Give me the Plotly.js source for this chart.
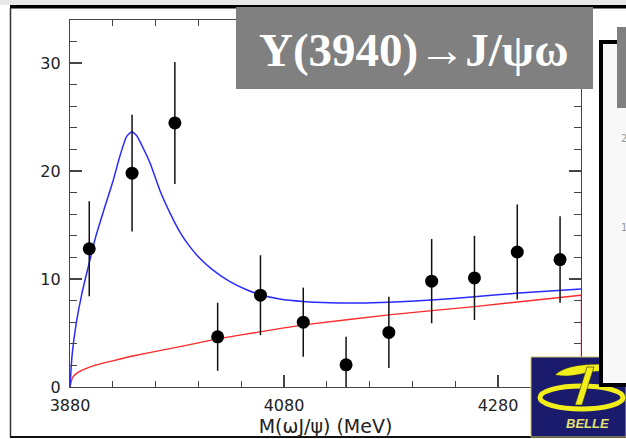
<!DOCTYPE html>
<html>
<head>
<meta charset="utf-8">
<script src="https://cdn.plot.ly/plotly-3.0.1.min.js"></script>
<style>html,body{margin:0;padding:0;background:#fff;}#chart{width:626px;height:439px;}</style>
</head>
<body>
<div id="chart"></div>
<script>
// ---- data ----
var massBins = [3898, 3938, 3978, 4018, 4058, 4098, 4138, 4178, 4218, 4258, 4298, 4338];
var events   = [12.8, 19.8, 24.45, 4.65, 8.5, 6.0, 2.05, 5.05, 9.8, 10.1, 12.5, 11.8];
var errors   = [4.4, 5.4, 5.65, 3.15, 3.7, 3.2, 2.6, 3.3, 3.9, 3.9, 4.4, 4.0];

var fitMass  = [3880, 3882, 3886, 3891, 3897, 3904, 3912, 3920, 3927, 3933, 3937.5, 3942, 3948, 3955, 3964, 3973.5, 3983, 3992, 4001.5, 4014, 4029.5, 4045, 4058, 4076, 4098, 4123, 4150, 4178, 4218, 4258, 4300, 4358];
var fitTotal = [0, 3.0, 6.0, 8.6, 11.1, 13.9, 16.5, 19.0, 21.5, 23.2, 23.6, 23.3, 22.2, 20.7, 18.2, 16.1, 14.3, 13.0, 11.9, 10.8, 9.75, 9.0, 8.55, 8.15, 7.92, 7.8, 7.78, 7.85, 8.05, 8.36, 8.7, 9.07];

var bgMass   = [3880, 3882.5, 3888.7, 3901, 3920, 3938.6, 3969.7, 4001, 4018, 4058.5, 4098.4, 4178, 4258, 4358];
var bgValues = [0, 0.9, 1.42, 1.94, 2.43, 2.87, 3.49, 4.1, 4.45, 5.12, 5.75, 6.67, 7.45, 8.5];

var xTickVals = [3880, 4080, 4280];
var yTickVals = [0, 10, 20, 30];
var titleText = "Y(3940)\u2192J/\u03c8\u03c9";
var xTitle = "M(\u03c9J/\u03c8) (MeV)";

// ---- layout geometry helpers (pixel -> paper) ----
var L = 70, T = 20, W = 511, H = 367;
function X(px){ return (px - L) / W; }
function Y(py){ return (T + H - py) / H; }
function P(px, py){ return X(px).toFixed(5) + "," + Y(py).toFixed(5); }

var traces = [
  {
    x: bgMass, y: bgValues, type: "scatter", mode: "lines",
    line: {color: "#ff2a2a", width: 1.3, shape: "spline", smoothing: 0.5},
    hoverinfo: "skip", showlegend: false
  },
  {
    x: [bgMass[bgMass.length-1], bgMass[bgMass.length-1]], y: [bgValues[bgValues.length-1], 0],
    type: "scatter", mode: "lines", line: {color: "#d02060", width: 1.3},
    hoverinfo: "skip", showlegend: false
  },
  {
    x: fitMass, y: fitTotal, type: "scatter", mode: "lines",
    line: {color: "#2a2aff", width: 1.5, shape: "spline", smoothing: 0.6},
    hoverinfo: "skip", showlegend: false
  },
  {
    x: massBins, y: events, type: "scatter", mode: "markers",
    marker: {color: "#000", size: 13},
    error_y: {type: "data", array: errors, visible: true, color: "#111", thickness: 1.5, width: 0},
    showlegend: false
  }
];

var shapes = [
  // top grey strip and black bar
  {type:"rect", xref:"paper", yref:"paper", x0:X(0), x1:X(626), y0:Y(0), y1:Y(5), fillcolor:"#e8e8e8", line:{width:0}, layer:"below"},
  {type:"rect", xref:"paper", yref:"paper", x0:X(10), x1:X(626), y0:Y(5), y1:Y(8.5), fillcolor:"#000", line:{width:0}, layer:"above"},
  {type:"line", xref:"paper", yref:"paper", x0:X(10.5), x1:X(10.5), y0:Y(8), y1:Y(437), line:{color:"#333", width:1.5}, layer:"above"},
  {type:"line", xref:"paper", yref:"paper", x0:X(10), x1:X(626), y0:Y(437), y1:Y(437), line:{color:"#111", width:2}, layer:"above"},
  // title box
  {type:"rect", xref:"paper", yref:"paper", x0:X(236), x1:X(593), y0:Y(7), y1:Y(89), fillcolor:"#808080", line:{width:0}, layer:"above"},
  // Belle logo
  {type:"rect", xref:"paper", yref:"paper", x0:X(531), x1:X(626), y0:Y(357), y1:Y(437), fillcolor:"#1b1b6e", line:{color:"#c8c060", width:1}, layer:"above"},
  {type:"circle", xref:"paper", yref:"paper", x0:X(540), x1:X(623), y0:Y(386), y1:Y(409), line:{color:"#f2ee1a", width:5}, layer:"above"},
  {type:"path", xref:"paper", yref:"paper", layer:"above",
   path:"M"+P(555,375)+" C"+P(563,367)+" "+P(578,364)+" "+P(604,364)+" L"+P(604,371)+" C"+P(586,371)+" "+P(572,379)+" "+P(555,375)+" Z",
   fillcolor:"#f2ee1a", line:{color:"#222", width:0.6}},
  {type:"path", xref:"paper", yref:"paper", layer:"above",
   path:"M"+P(587,367)+" L"+P(594,367)+" L"+P(582,405)+" L"+P(575,405)+" Z",
   fillcolor:"#f2ee1a", line:{color:"#222", width:0.6}},
  // right overlapping panel
  {type:"rect", xref:"paper", yref:"paper", x0:X(601), x1:X(640), y0:Y(42), y1:Y(385), fillcolor:"#f8f8f8", line:{color:"#000", width:4}, layer:"above"},
  {type:"rect", xref:"paper", yref:"paper", x0:X(617), x1:X(626), y0:Y(27), y1:Y(108), fillcolor:"#808080", line:{width:0}, layer:"above"}
];

var annotations = [
  {xref:"paper", yref:"paper", x:X(414), y:Y(50), text:"<b>"+titleText+"</b>", showarrow:false,
   xanchor:"center", yanchor:"middle", font:{family:"Liberation Serif, Times New Roman, serif", size:47, color:"#fff"}},
  {xref:"paper", yref:"paper", x:X(587), y:Y(423), text:"<b><i>BELLE</i></b>", showarrow:false,
   xanchor:"center", yanchor:"middle", font:{family:"Liberation Sans, Arial, sans-serif", size:13, color:"#e6e070"}},
  {xref:"paper", yref:"paper", x:X(619), y:Y(138), text:"2", showarrow:false, xanchor:"left", yanchor:"middle",
   font:{family:"DejaVu Sans", size:10, color:"#999"}},
  {xref:"paper", yref:"paper", x:X(619), y:Y(227), text:"1", showarrow:false, xanchor:"left", yanchor:"middle",
   font:{family:"DejaVu Sans", size:10, color:"#999"}}
];

var axisCommon = {
  showgrid:false, zeroline:false, showline:true, linecolor:"#444", linewidth:1.2,
  mirror:"allticks", ticks:"inside", tickcolor:"#444", tickwidth:1.2, ticklen:12,
  tickfont:{family:"DejaVu Sans", size:16, color:"#222"}
};

var layout = {
  width:626, height:439,
  margin:{l:L, r:626-L-W, t:T, b:439-T-H, pad:0},
  paper_bgcolor:"#fff", plot_bgcolor:"#fff",
  showlegend:false,
  xaxis: Object.assign({}, axisCommon, {
    range:[3880, 3880 + W/1.07], tickmode:"array", tickvals:xTickVals, ticktext:xTickVals.map(String),
    ticklabelstandoff:4,
    minor:{dtick:40, tick0:3880, ticks:"inside", ticklen:6, tickcolor:"#444", tickwidth:1.2},
    title:{text:xTitle, font:{family:"DejaVu Sans", size:19, color:"#222"}, standoff:0}
  }),
  yaxis: Object.assign({}, axisCommon, {
    range:[0, H/10.8], tickmode:"array", tickvals:yTickVals, ticktext:yTickVals.map(String),
    ticklabelstandoff:5,
    minor:{dtick:2, tick0:0, ticks:"inside", ticklen:7, tickcolor:"#444", tickwidth:1.2}
  }),
  shapes:shapes,
  annotations:annotations
};

Plotly.newPlot("chart", traces, layout, {displayModeBar:false, staticPlot:true});
</script>
</body>
</html>
